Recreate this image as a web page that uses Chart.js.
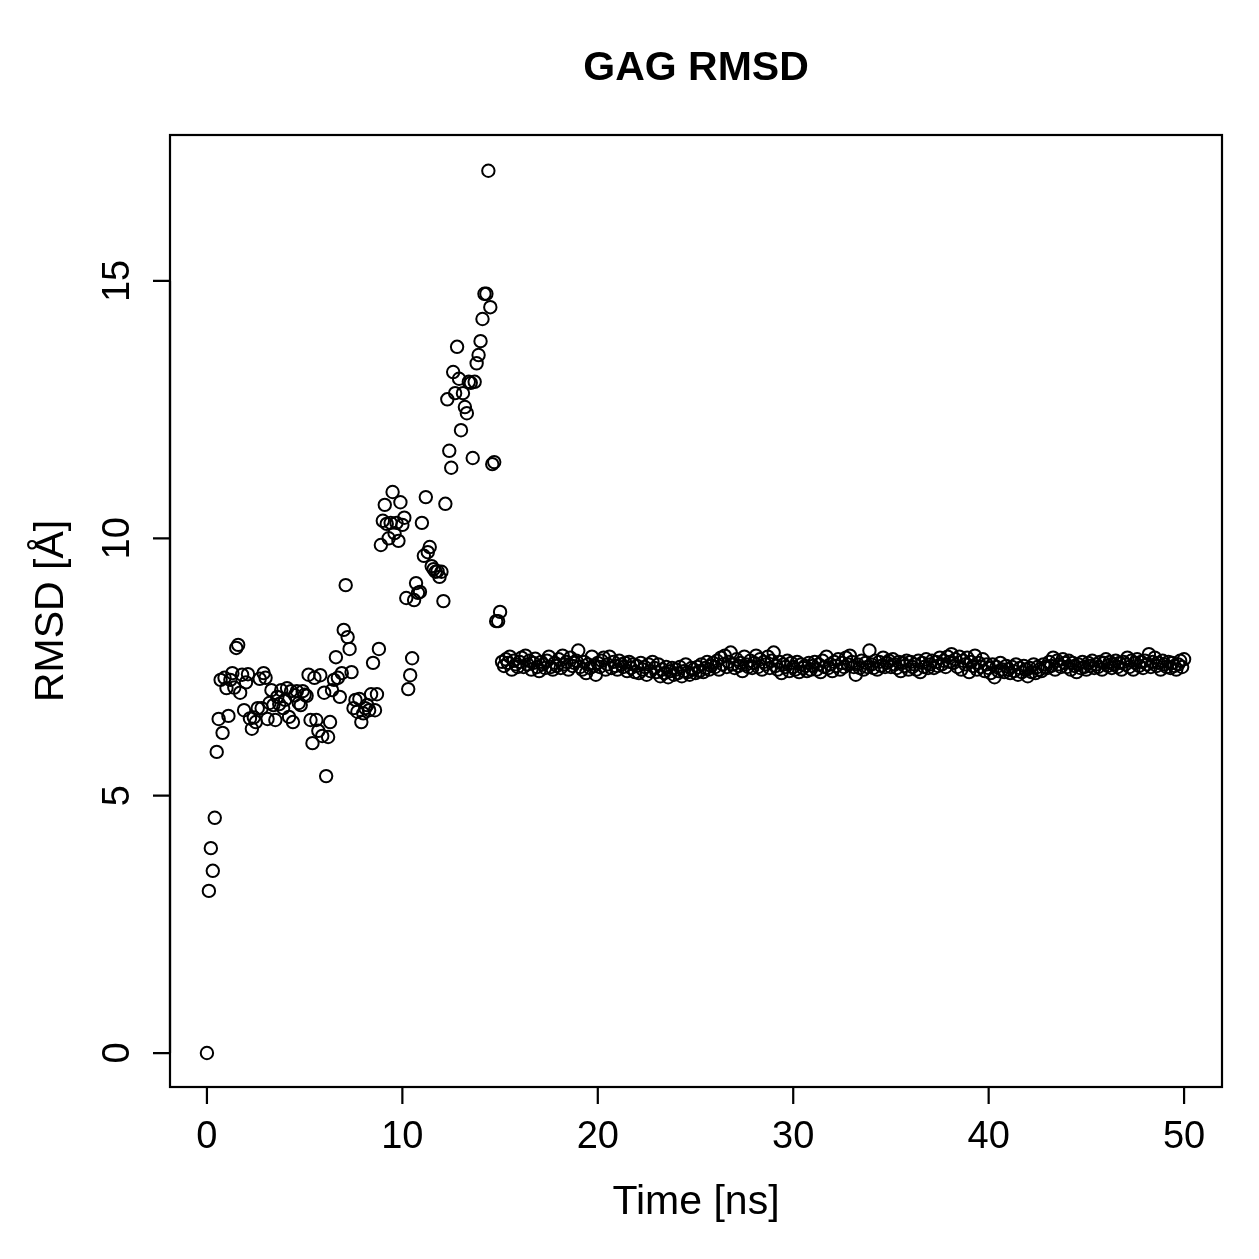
<!DOCTYPE html>
<html>
<head>
<meta charset="utf-8">
<script src="https://cdn.jsdelivr.net/npm/chart.js@4/dist/chart.umd.min.js"></script>
<style>
  html, body { margin: 0; padding: 0; background: #fff; }
  canvas { display: block; }
</style>
</head>
<body>
<canvas id="graficoRmsd" width="1259" height="1259"></canvas>
<script>
// RMSD del GAG, una muestra cada 0.1 ns (0 a 50 ns)
const rmsd = [
  // 0 - 15 ns
  0, 3.15, 3.98, 3.54, 4.57, 5.85, 6.49, 7.25, 6.22, 7.29,
  7.09, 6.55, 7.25, 7.38, 7.1, 7.87, 7.93, 7.0, 7.35, 6.66,
  7.2, 7.36, 6.5, 6.3, 6.52, 6.43, 6.7, 7.27, 6.7, 7.38,
  7.29, 6.49, 6.8, 7.05, 6.76, 6.47, 6.92, 6.78, 7.05, 6.7,
  6.86, 7.09, 6.53, 7.03, 6.43, 6.95, 7.03, 6.8, 6.76, 7.03,
  6.96, 6.94, 7.35, 6.47, 6.02, 7.29, 6.47, 6.26, 7.34, 6.16,
  7.0, 5.38, 6.14, 6.43, 7.05, 7.25, 7.69, 7.29, 6.92, 7.38,
  8.22, 9.09, 8.08, 7.85, 7.4, 6.7, 6.86, 6.63, 6.88, 6.43,
  6.6, 6.7, 6.76, 6.66, 6.97, 7.58, 6.66, 6.97, 7.85, 9.87,
  10.34, 10.65, 10.28, 10.0, 10.3, 10.9, 10.1, 10.3, 9.95, 10.7,
  10.26, 10.4, 8.84, 7.07, 7.34, 7.67, 8.8, 9.13, 8.94, 8.96,
  10.3, 9.66, 10.8, 9.73, 9.83, 9.46, 9.4, 9.35, 9.36, 9.25,
  9.35, 8.78, 10.67, 12.7, 11.7, 11.37, 13.23, 12.82, 13.72, 13.1,
  12.1, 12.82, 12.55, 12.43, 13.04, 13.02, 11.56, 13.04, 13.4, 13.56,
  13.83, 14.26, 14.75, 14.75, 17.14, 14.49, 11.44, 11.48, 8.39, 8.39,
  // 15 - 50 ns
  8.57, 7.6, 7.52, 7.65, 7.58, 7.7, 7.45, 7.62, 7.55, 7.5,
  7.6, 7.68, 7.5, 7.72, 7.55, 7.62, 7.45, 7.58, 7.66, 7.5,
  7.42, 7.6, 7.55, 7.48, 7.62, 7.7, 7.5, 7.45, 7.58, 7.52,
  7.65, 7.48, 7.72, 7.55, 7.6, 7.45, 7.68, 7.52, 7.58, 7.62,
  7.82, 7.5, 7.45, 7.6, 7.38, 7.55, 7.48, 7.7, 7.52, 7.35,
  7.58, 7.5, 7.62, 7.68, 7.45, 7.55, 7.7, 7.48, 7.6, 7.52,
  7.45, 7.62, 7.55, 7.5, 7.58, 7.42, 7.6, 7.48, 7.55, 7.4,
  7.52, 7.38, 7.58, 7.45, 7.5, 7.35, 7.55, 7.42, 7.6, 7.48,
  7.4, 7.55, 7.32, 7.45, 7.38, 7.5, 7.3, 7.42, 7.48, 7.35,
  7.45, 7.38, 7.5, 7.32, 7.42, 7.55, 7.4, 7.35, 7.48, 7.45,
  7.38, 7.5, 7.42, 7.55, 7.4, 7.48, 7.6, 7.45, 7.52, 7.58,
  7.5, 7.62, 7.45, 7.68, 7.55, 7.72, 7.5, 7.6, 7.78, 7.55,
  7.48, 7.65, 7.52, 7.58, 7.42, 7.7, 7.55, 7.5, 7.62, 7.48,
  7.58, 7.72, 7.5, 7.65, 7.45, 7.6, 7.55, 7.7, 7.48, 7.62,
  7.78, 7.52, 7.45, 7.6, 7.38, 7.55, 7.5, 7.62, 7.42, 7.58,
  7.5, 7.45, 7.6, 7.4, 7.55, 7.48, 7.52, 7.42, 7.58, 7.45,
  7.52, 7.6, 7.45, 7.55, 7.4, 7.62, 7.5, 7.7, 7.48, 7.55,
  7.42, 7.6, 7.52, 7.65, 7.45, 7.58, 7.5, 7.68, 7.55, 7.72,
  7.6, 7.5, 7.35, 7.55, 7.48, 7.62, 7.45, 7.58, 7.5, 7.82,
  7.55, 7.48, 7.62, 7.45, 7.6, 7.52, 7.68, 7.5, 7.58, 7.62,
  7.5, 7.65, 7.55, 7.48, 7.6, 7.42, 7.58, 7.52, 7.62, 7.45,
  7.6, 7.5, 7.55, 7.45, 7.62, 7.4, 7.58, 7.5, 7.65, 7.48,
  7.55, 7.62, 7.48, 7.6, 7.52, 7.68, 7.55, 7.62, 7.5, 7.7,
  7.6, 7.75, 7.58, 7.65, 7.5, 7.7, 7.45, 7.62, 7.55, 7.68,
  7.4, 7.6, 7.52, 7.72, 7.45, 7.58, 7.5, 7.65, 7.42, 7.55,
  7.48, 7.38, 7.55, 7.3, 7.5, 7.42, 7.58, 7.45, 7.4, 7.52,
  7.45, 7.38, 7.5, 7.42, 7.55, 7.35, 7.48, 7.4, 7.52, 7.45,
  7.32, 7.48, 7.4, 7.55, 7.38, 7.5, 7.45, 7.42, 7.55, 7.5,
  7.48, 7.6, 7.52, 7.68, 7.45, 7.62, 7.55, 7.5, 7.65, 7.58,
  7.5, 7.62, 7.45, 7.58, 7.52, 7.4, 7.55, 7.48, 7.6, 7.5,
  7.45, 7.58, 7.52, 7.62, 7.48, 7.55, 7.5, 7.6, 7.45, 7.58,
  7.65, 7.52, 7.6, 7.48, 7.55, 7.62, 7.5, 7.58, 7.45, 7.6,
  7.55, 7.68, 7.5, 7.62, 7.45, 7.58, 7.65, 7.52, 7.6, 7.48,
  7.62, 7.55, 7.75, 7.5, 7.6, 7.68, 7.52, 7.58, 7.45, 7.62,
  7.55, 7.5, 7.6, 7.48, 7.58, 7.52, 7.45, 7.55, 7.62, 7.5,
  7.65
];

// tiempo de cada frame (paso fijo de 0.1 ns)
const pasoNs = 0.1;
const tiempo = rmsd.map((_, i) => +(i * pasoNs).toFixed(1));

const ticksX = [0, 10, 20, 30, 40, 50];
const ticksY = [0, 5, 10, 15];

const titulo = "GAG RMSD";
const tituloX = "Time [ns]";
const tituloY = "RMSD [Å]";

const fuente = '"Liberation Sans", Arial, sans-serif';

// Ejes estilo R: caja, marcas y textos
const ejesR = {
  id: 'ejesR',
  afterDraw(chart) {
    const { ctx, chartArea: a, scales: { x, y } } = chart;
    ctx.save();
    ctx.strokeStyle = '#000';
    ctx.fillStyle = '#000';
    ctx.lineWidth = 2.2;
    ctx.strokeRect(a.left, a.top, a.right - a.left, a.bottom - a.top);

    const largo = 17;
    ctx.font = '38px ' + fuente;

    // eje x
    ctx.beginPath();
    ctx.moveTo(x.getPixelForValue(ticksX[0]), a.bottom);
    ctx.lineTo(x.getPixelForValue(ticksX[ticksX.length - 1]), a.bottom);
    ticksX.forEach(t => {
      const px = x.getPixelForValue(t);
      ctx.moveTo(px, a.bottom);
      ctx.lineTo(px, a.bottom + largo);
    });
    ctx.stroke();
    ctx.textAlign = 'center';
    ctx.textBaseline = 'middle';
    ticksX.forEach(t => ctx.fillText(String(t), x.getPixelForValue(t), a.bottom + 51));

    // eje y
    ctx.beginPath();
    ctx.moveTo(a.left, y.getPixelForValue(ticksY[0]));
    ctx.lineTo(a.left, y.getPixelForValue(ticksY[ticksY.length - 1]));
    ticksY.forEach(t => {
      const py = y.getPixelForValue(t);
      ctx.moveTo(a.left, py);
      ctx.lineTo(a.left - largo, py);
    });
    ctx.stroke();
    ticksY.forEach(t => {
      ctx.save();
      ctx.translate(a.left - 51, y.getPixelForValue(t));
      ctx.rotate(-Math.PI / 2);
      ctx.fillText(String(t), 0, 0);
      ctx.restore();
    });

    // titulos
    const cx = (a.left + a.right) / 2;
    ctx.font = '41px ' + fuente;
    ctx.fillText(tituloX, cx, 1203);
    ctx.save();
    ctx.translate(52, (a.top + a.bottom) / 2);
    ctx.rotate(-Math.PI / 2);
    ctx.fillText(tituloY, 0, 0);
    ctx.restore();

    ctx.font = 'bold 41px ' + fuente;
    ctx.fillText(titulo, cx, 69);
    ctx.restore();
  }
};

function renderGrafico() {
  const ctx = document.getElementById('graficoRmsd').getContext('2d');
  new Chart(ctx, {
    type: 'scatter',
    data: {
      datasets: [{
        label: tituloY,
        data: tiempo.map((t, i) => ({ x: t, y: rmsd[i] })),
        pointStyle: 'circle',
        pointRadius: 6.2,
        pointBorderWidth: 2,
        borderColor: '#000',
        backgroundColor: 'rgba(0,0,0,0)',
        showLine: false
      }]
    },
    options: {
      responsive: false,
      animation: false,
      devicePixelRatio: 1,
      layout: { padding: { left: 170, right: 37, top: 135, bottom: 172 } },
      plugins: {
        legend: { display: false },
        tooltip: { enabled: false },
        title: { display: false }
      },
      scales: {
        x: { type: 'linear', min: -1.89, max: 51.94, display: false },
        y: { type: 'linear', min: -0.66, max: 17.835, display: false }
      }
    },
    plugins: [ejesR]
  });
}

renderGrafico();
</script>
</body>
</html>
